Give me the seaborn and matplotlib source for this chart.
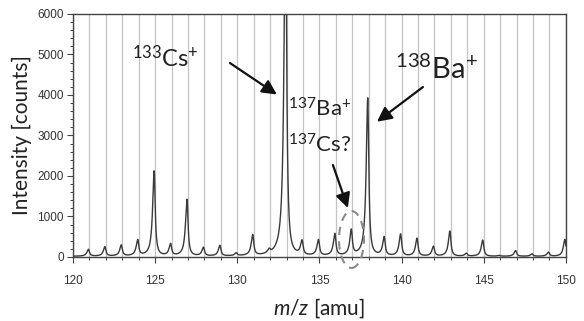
import numpy as np
import pandas as pd
import matplotlib
matplotlib.use("Agg")
import matplotlib.pyplot as plt
from matplotlib.patches import Ellipse
import seaborn as sns

# ------------------------------------------------------------
# Data: peak heights (counts)
# ------------------------------------------------------------
masses = [121, 122, 123, 124, 125, 126, 127, 128, 129, 130,
          131, 132, 133, 134, 135, 136, 137, 138, 139, 140,
          141, 142, 143, 144, 145, 146, 147, 148, 149, 150]
heights = [170, 230, 270, 390, 2100, 290, 1400, 210, 260, 70,
           510, 90, 9000, 350, 390, 540, 620, 3900, 460, 540,
           440, 240, 620, 70, 400, 20, 140, 60, 100, 420]
x_ticks = [120, 125, 130, 135, 140, 145, 150]
y_ticks = [0, 1000, 2000, 3000, 4000, 5000, 6000]

# line shape of each peak (instrument resolution)
calib_shift = -0.06
gamma_left, gamma_right = 0.11, 0.075
baseline = 15

mz = np.linspace(120, 150, 6001)
intensity = np.full_like(mz, baseline, dtype=float)
for m, h in zip(masses, heights):
    d = mz - (m + calib_shift)
    g = np.where(d < 0, gamma_left, gamma_right)
    intensity += h * g**2 / (d**2 + g**2)

df = pd.DataFrame({"mz": mz, "intensity": intensity})

# ------------------------------------------------------------
# Plot
# ------------------------------------------------------------
sns.set_theme(style="white")
plt.rcParams["font.family"] = ["Lato", "DejaVu Sans"]
plt.rcParams["mathtext.fontset"] = "custom"
plt.rcParams["mathtext.rm"] = "Lato"
plt.rcParams["mathtext.it"] = "Lato:italic"

fig = plt.figure(figsize=(5.84, 3.21), dpi=100)
ax = fig.add_axes([0.125, 0.1994, 0.844, 0.757])

sns.lineplot(data=df, x="mz", y="intensity", ax=ax,
             color="#3a3a3a", lw=1.0, zorder=3)

ax.set_xlim(120, 150)
ax.set_ylim(0, 6000)
ax.set_xticks(x_ticks)
ax.set_xticks(range(121, 150), minor=True)
ax.set_yticks(y_ticks)
ax.set_yticks(range(0, 6001, 200), minor=True)

ax.grid(which="both", axis="x", color="#c4c4c4", lw=0.9, zorder=0)
ax.grid(False, axis="y")

for sp in ax.spines.values():
    sp.set_color("#444444")
    sp.set_linewidth(1.0)

ax.tick_params(which="major", direction="out", length=4, width=0.8,
               color="#444444", labelsize=8.5, labelcolor="#333333", pad=2.5)
ax.tick_params(which="minor", direction="out", length=2.5, width=0.7,
               color="#444444")
ax.tick_params(axis="x", which="both", bottom=True)
ax.tick_params(axis="y", which="both", left=True)
ax.tick_params(axis="x", which="major", pad=9)
for lab in ax.get_xticklabels() + ax.get_yticklabels():
    lab.set_family(["Liberation Sans Narrow", "Liberation Sans", "DejaVu Sans"])

ax.set_xlabel("$m/z$ [amu]", fontsize=15, color="#222222", va="center")
ax.xaxis.set_label_coords(0.5, -0.21)
ax.set_ylabel("Intensity [counts]", fontsize=15, color="#222222", va="center")
ax.yaxis.set_label_coords(-0.103, 0.5)

# annotations
ax.text(123.57, 4684, "$^{133}$Cs$^{+}$", fontsize=17, color="#222222",
        ha="left", va="baseline")
ax.text(139.6, 4395, "$^{138}$Ba$^{+}$", fontsize=21, color="#222222",
        ha="left", va="baseline")
ax.text(133.08, 3464, "$^{137}$Ba$^{+}$", fontsize=16, color="#222222",
        ha="left", va="baseline")
ax.text(133.08, 2568, "$^{137}$Cs?", fontsize=16, color="#222222",
        ha="left", va="baseline")

arrow = dict(arrowstyle="-|>", mutation_scale=22, lw=1.6, color="#111111",
             shrinkA=0, shrinkB=0)
ax.annotate("", xy=(132.41, 4012), xytext=(129.55, 4790), arrowprops=arrow)
ax.annotate("", xy=(138.5, 3340), xytext=(141.3, 4197), arrowprops=arrow)
ax.annotate("", xy=(136.73, 1210), xytext=(135.82, 2271), arrowprops=arrow)

ax.add_patch(Ellipse((136.95, 432), 1.52, 1407, fill=False,
                     edgecolor="#8a8a8a", lw=1.5, ls=(0, (4, 3)),
                     clip_on=False, zorder=4))

fig.savefig("out.png", dpi=100)
